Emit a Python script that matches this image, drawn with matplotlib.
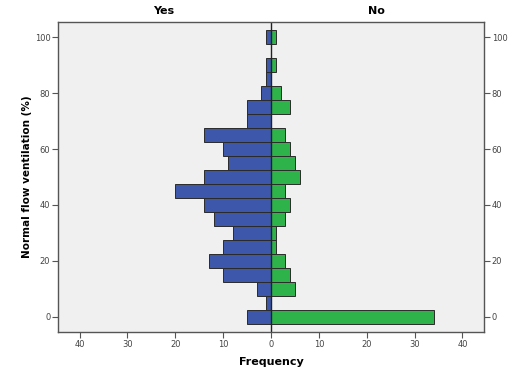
import numpy as np
import matplotlib
matplotlib.use('Agg')
import matplotlib.pyplot as plt
from matplotlib.ticker import FuncFormatter
import matplotlib.transforms as mtransforms

# bin centres of Normal flow ventilation (%)
bins = [0, 5, 10, 15, 20, 25, 30, 35, 40, 45, 50, 55, 60, 65, 70, 75, 80, 85, 90, 95, 100]
# counts per bin, bottom to top
yes_counts = [5, 1, 3, 10, 13, 10, 8, 12, 14, 20, 14, 9, 10, 14, 5, 5, 2, 1, 1, 0, 1]
no_counts = [34, 0, 5, 4, 3, 1, 1, 3, 4, 3, 6, 5, 4, 3, 0, 4, 2, 0, 1, 0, 1]
group_labels = ['Yes', 'No']

blue = '#3d58ab'
green = '#2db34a'
edge = '#2b2b2b'

fig = plt.figure(figsize=(5.1, 3.78), dpi=100)
ax = fig.add_axes([58 / 510, 1 - 332 / 378, (484 - 58) / 510, (332 - 22) / 378])
ax.set_facecolor('#f0f0f0')

ax.barh(bins, [-v for v in yes_counts], height=5, color=blue, edgecolor=edge, linewidth=0.7)
ax.barh(bins, no_counts, height=5, color=green, edgecolor=edge, linewidth=0.7)
ax.axvline(0, color='#222222', linewidth=1)

ax.set_xlim(-44.5, 44.5)
ax.set_ylim(-5.4, 105.4)
ax.set_xticks(range(-40, 41, 10))
ax.xaxis.set_major_formatter(FuncFormatter(lambda v, p: f'{abs(int(v))}'))
ax.set_yticks(range(0, 101, 20))

for sp in ax.spines.values():
    sp.set_color('#555555')
    sp.set_linewidth(1)

ax.tick_params(axis='both', labelsize=6, colors='#555555', labelcolor='#444444',
               length=4, width=0.8, pad=1.5)

ax2 = ax.twinx()
ax2.set_ylim(ax.get_ylim())
ax2.set_yticks(range(0, 101, 20))
ax2.tick_params(axis='y', labelsize=6, colors='#555555', labelcolor='#444444',
                length=4, width=0.8, pad=1.5)
for sp in ax2.spines.values():
    sp.set_visible(False)

ax.set_ylabel('Normal flow ventilation (%)', fontsize=7.5, fontweight='bold', labelpad=2)
ax.set_xlabel('Frequency', fontsize=8, fontweight='bold', labelpad=6)

trans = mtransforms.blended_transform_factory(ax.transData, ax.transAxes)
ax.text(-22.5, 1.02, group_labels[0], transform=trans, ha='center', va='bottom',
        fontsize=8, fontweight='bold')
ax.text(22, 1.02, group_labels[1], transform=trans, ha='center', va='bottom',
        fontsize=8, fontweight='bold')

fig.savefig('out.png', dpi=100, facecolor='white')
